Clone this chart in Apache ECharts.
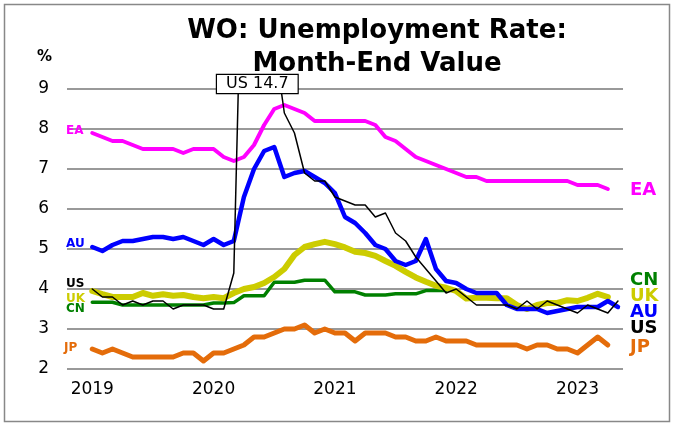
<!DOCTYPE html>
<html>
<head>
<meta charset="utf-8">
<script src="https://cdn.jsdelivr.net/npm/echarts@6/dist/echarts.min.js"></script>
<style>
  html, body { margin: 0; padding: 0; background: #fff; }
  #chart { width: 674px; height: 426px; }
</style>
</head>
<body>
<div id="chart"></div>
<script>
// monthly, Jan 2019 onwards (index 0 = Jan 2019)
const yearLabels = ['2019', '2020', '2021', '2022', '2023'];
const yearTicks = [0, 12, 24, 36, 48];

const eaValues = [7.9, 7.8, 7.7, 7.7, 7.6, 7.5, 7.5, 7.5, 7.5, 7.4, 7.5, 7.5,
  7.5, 7.3, 7.2, 7.3, 7.6, 8.1, 8.5, 8.6, 8.5, 8.4, 8.2, 8.2,
  8.2, 8.2, 8.2, 8.2, 8.1, 7.8, 7.7, 7.5, 7.3, 7.2, 7.1, 7.0,
  6.9, 6.8, 6.8, 6.7, 6.7, 6.7, 6.7, 6.7, 6.7, 6.7, 6.7, 6.7,
  6.6, 6.6, 6.6, 6.5];
const auValues = [5.05, 4.95, 5.1, 5.2, 5.2, 5.25, 5.3, 5.3, 5.25, 5.3, 5.2, 5.1,
  5.25, 5.1, 5.2, 6.3, 7.0, 7.45, 7.55, 6.8, 6.9, 6.95, 6.8, 6.65,
  6.4, 5.8, 5.65, 5.4, 5.1, 5.0, 4.7, 4.6, 4.7, 5.25, 4.5, 4.2,
  4.15, 4.0, 3.9, 3.9, 3.9, 3.6, 3.5, 3.5, 3.5, 3.4, 3.45, 3.5,
  3.55, 3.55, 3.55, 3.7, 3.55];
const usValues = [4.0, 3.8, 3.8, 3.6, 3.7, 3.6, 3.7, 3.7, 3.5, 3.6, 3.6, 3.6,
  3.5, 3.5, 4.4, 14.7, 13.2, 11.0, 10.2, 8.4, 7.9, 6.9, 6.7, 6.7,
  6.3, 6.2, 6.1, 6.1, 5.8, 5.9, 5.4, 5.2, 4.8, 4.5, 4.2, 3.9,
  4.0, 3.8, 3.6, 3.6, 3.6, 3.6, 3.5, 3.7, 3.5, 3.7, 3.6, 3.5,
  3.4, 3.6, 3.5, 3.4, 3.7];
const ukValues = [3.95, 3.87, 3.8, 3.8, 3.8, 3.9, 3.83, 3.87, 3.83, 3.85, 3.8, 3.77,
  3.8, 3.77, 3.9, 4.0, 4.05, 4.15, 4.3, 4.5, 4.85, 5.05, 5.12, 5.18,
  5.12, 5.04, 4.93, 4.9, 4.83, 4.7, 4.58, 4.43, 4.29, 4.18, 4.08, 4.03,
  3.95, 3.76, 3.78, 3.78, 3.77, 3.77, 3.6, 3.5, 3.6, 3.65, 3.65, 3.72,
  3.7, 3.78, 3.88, 3.8];
const cnValues = [3.67, 3.67, 3.67, 3.6, 3.6, 3.6, 3.6, 3.6, 3.6, 3.6, 3.6, 3.6,
  3.65, 3.65, 3.66, 3.83, 3.83, 3.83, 4.17, 4.17, 4.17, 4.22, 4.22, 4.22,
  3.93, 3.93, 3.93, 3.85, 3.85, 3.85, 3.88, 3.88, 3.88, 3.96, 3.96, 3.96];
const jpValues = [2.5, 2.4, 2.5, 2.4, 2.3, 2.3, 2.3, 2.3, 2.3, 2.4, 2.4, 2.2,
  2.4, 2.4, 2.5, 2.6, 2.8, 2.8, 2.9, 3.0, 3.0, 3.1, 2.9, 3.0,
  2.9, 2.9, 2.7, 2.9, 2.9, 2.9, 2.8, 2.8, 2.7, 2.7, 2.8, 2.7,
  2.7, 2.7, 2.6, 2.6, 2.6, 2.6, 2.6, 2.5, 2.6, 2.6, 2.5, 2.5,
  2.4, 2.6, 2.8, 2.6];

const FONT = 'DejaVu Sans';
const colors = {
  EA: '#FF00FF', AU: '#0000FF', US: '#000000',
  UK: '#CCCC00', CN: '#008000', JP: '#E46C0A'
};

const toPairs = arr => arr.map((v, i) => [i, v]);

function line(name, values, width, z) {
  return {
    name: name,
    type: 'line',
    data: toPairs(values),
    showSymbol: false,
    z: z,
    lineStyle: { color: colors[name], width: width, cap: 'round', join: 'round' },
    itemStyle: { color: colors[name] },
    animation: false
  };
}

function tag(text, x, y, size, color) {
  return {
    type: 'text',
    x: x, y: y,
    style: {
      text: text,
      fill: color,
      font: 'bold ' + size + 'px "' + FONT + '"',
      align: 'left',
      verticalAlign: 'middle'
    },
    z: 100
  };
}

const chart = echarts.init(document.getElementById('chart'));

chart.setOption({
  backgroundColor: '#fff',
  animation: false,
  title: {
    text: 'WO: Unemployment Rate:\nMonth-End Value',
    left: 372,
    top: 10,
    textAlign: 'center',
    textStyle: {
      fontFamily: FONT,
      fontWeight: 'bold',
      fontSize: 26,
      lineHeight: 33,
      color: '#000'
    }
  },
  grid: { left: 67, right: 51, top: 89, bottom: 57 },
  xAxis: {
    type: 'value',
    min: -2.5,
    max: 52.5,
    splitLine: { show: false },
    axisLine: { show: false },
    axisTick: { show: false },
    axisLabel: {
      customValues: yearTicks,
      formatter: v => yearLabels[yearTicks.indexOf(v)],
      fontFamily: FONT,
      fontSize: 17,
      color: '#000',
      margin: 12
    }
  },
  yAxis: {
    type: 'value',
    min: 2,
    max: 9,
    interval: 1,
    axisLine: { show: false },
    axisTick: { show: false },
    splitLine: { lineStyle: { color: '#999', width: 2 } },
    axisLabel: {
      fontFamily: FONT,
      fontSize: 17,
      color: '#000',
      margin: 18
    }
  },
  series: [
    line('CN', cnValues, 3.5, 2),
    line('UK', ukValues, 6, 3),
    line('JP', jpValues, 5, 4),
    line('EA', eaValues, 4, 5),
    line('AU', auValues, 4.5, 6),
    line('US', usValues, 1.5, 7)
  ],
  graphic: [
    {
      type: 'rect',
      shape: { x: 4.5, y: 4.5, width: 665, height: 417 },
      style: { fill: 'none', stroke: '#888', lineWidth: 1.5 },
      z: 0, silent: true
    },
    {
      type: 'text',
      x: 37, y: 57,
      style: {
        text: '%', fill: '#000',
        font: 'bold 15px "' + FONT + '"',
        align: 'left', verticalAlign: 'middle'
      }
    },
    {
      type: 'text',
      x: 217, y: 75,
      z: 100,
      style: {
        text: 'US 14.7',
        fill: '#000',
        font: '16px "' + FONT + '"',
        backgroundColor: '#fff',
        borderColor: '#000',
        borderWidth: 1.2,
        padding: [1, 9, 1, 9],
        align: 'left',
        verticalAlign: 'top'
      }
    },
    // left-hand series tags
    tag('EA', 66, 131, 12, colors.EA),
    tag('AU', 66, 244, 12, colors.AU),
    tag('US', 66, 284, 12, colors.US),
    tag('UK', 66, 299, 12, colors.UK),
    tag('CN', 66, 309, 12, colors.CN),
    tag('JP', 64, 348, 12, colors.JP),
    // right-hand series tags
    tag('EA', 630, 190, 18, colors.EA),
    tag('CN', 630, 280, 18, colors.CN),
    tag('UK', 630, 296, 18, colors.UK),
    tag('AU', 630, 312, 18, colors.AU),
    tag('US', 630, 328, 18, colors.US),
    tag('JP', 630, 347, 18, colors.JP)
  ]
});
</script>
</body>
</html>
